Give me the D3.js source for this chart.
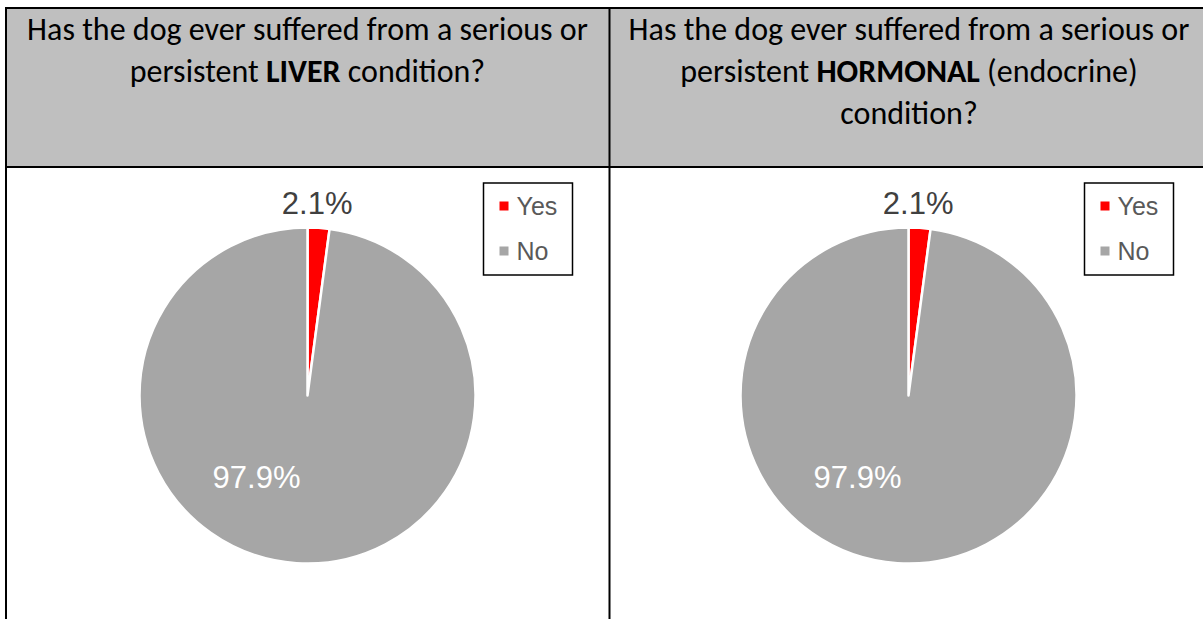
<!DOCTYPE html>
<html>
<head>
<meta charset="utf-8">
<script src="https://cdn.jsdelivr.net/npm/d3@7"></script>
<style>
  html, body { margin: 0; padding: 0; background: #ffffff; }
  svg { display: block; }
</style>
</head>
<body>
<svg id="chart" width="1203" height="619"></svg>
<script>
// Survey answers, one pie per question
const categories = ["Yes", "No"];
const liverValues = [2.1, 97.9];
const hormonalValues = [2.1, 97.9];
const valueLabels = ["2.1%", "97.9%"];

// Header question text: each line is a list of [text, bold] runs
const liverTitle = [
  [["Has the dog ever suffered from a serious or", false]],
  [["persistent ", false], ["LIVER", true], [" condition?", false]]
];
const hormonalTitle = [
  [["Has the dog ever suffered from a serious or", false]],
  [["persistent ", false], ["HORMONAL", true], [" (endocrine)", false]],
  [["condition?", false]]
];

const colors = d3.scaleOrdinal().domain(categories).range(["#ff0000", "#a6a6a6"]);

const svg = d3.select("#chart");
const W = 1203, H = 619;

// table geometry
const tableLeft = 6, tableTop = 8, divider = 609.5, tableRight = 1212, headerBottom = 167;

svg.append("rect")
  .attr("x", tableLeft).attr("y", tableTop)
  .attr("width", tableRight - tableLeft).attr("height", headerBottom - tableTop)
  .attr("fill", "#bfbfbf");

const border = svg.append("g").attr("stroke", "#000").attr("stroke-width", 2);
border.append("line").attr("x1", tableLeft - 1).attr("x2", W).attr("y1", tableTop).attr("y2", tableTop);
border.append("line").attr("x1", tableLeft - 1).attr("x2", W).attr("y1", headerBottom).attr("y2", headerBottom);
border.append("line").attr("x1", tableLeft).attr("x2", tableLeft).attr("y1", tableTop - 1).attr("y2", H);
border.append("line").attr("x1", divider).attr("x2", divider).attr("y1", tableTop - 1).attr("y2", H);

const headerFont = "Carlito, Calibri, Lato, 'Open Sans', sans-serif";

function drawTitle(lines, cx) {
  const g = svg.append("g");
  const baselines = [40, 82, 124];
  const texts = lines.map((runs, i) => {
    const t = g.append("text")
      .attr("x", cx).attr("y", baselines[i])
      .attr("text-anchor", "middle")
      .attr("font-family", headerFont)
      .attr("font-size", 30)
      .attr("fill", "#000");
    runs.forEach(([s, b]) => {
      t.append("tspan").attr("font-weight", b ? "bold" : "normal").text(s);
    });
    return t;
  });
  // scale so the first (longest) line spans the cell like the source layout
  const w = texts[0].node().getComputedTextLength();
  const size = 30 * 561 / w;
  texts.forEach(t => t.attr("font-size", size));
}

drawTitle(liverTitle, 307.5);
drawTitle(hormonalTitle, 909);

const radius = 168;
const pie = d3.pie().sort(null).value(d => d.value);
const arc = d3.arc().innerRadius(0).outerRadius(radius);

function drawPie(values, cx, cy, legendX) {
  const data = categories.map((c, i) => ({ cat: c, value: values[i], label: valueLabels[i] }));
  const g = svg.append("g").attr("transform", `translate(${cx},${cy})`);
  const arcs = pie(data);

  g.selectAll("path")
    .data(arcs)
    .join("path")
    .attr("d", arc)
    .attr("fill", d => colors(d.data.cat))
    .attr("stroke", "#ffffff")
    .attr("stroke-width", 2.5)
    .attr("stroke-linejoin", "round");

  // outside-end label for the small slice
  const small = arcs[0];
  const aSmall = (small.startAngle + small.endAngle) / 2;
  const rOut = radius + 24;
  g.append("text")
    .attr("x", rOut * Math.sin(aSmall) - 3)
    .attr("y", -rOut * Math.cos(aSmall))
    .attr("text-anchor", "middle")
    .attr("dominant-baseline", "central")
    .attr("font-family", "'Liberation Sans', Arial, sans-serif")
    .attr("font-size", 31)
    .attr("fill", "#404040")
    .text(small.data.label);

  // inside label for the large slice, placed toward the lower-left
  const big = arcs[1];
  const aBig = (big.startAngle + big.endAngle) / 2 + 0.49;
  const rIn = radius * 0.575;
  g.append("text")
    .attr("x", rIn * Math.sin(aBig))
    .attr("y", -rIn * Math.cos(aBig))
    .attr("text-anchor", "middle")
    .attr("dominant-baseline", "central")
    .attr("font-family", "'Liberation Sans', Arial, sans-serif")
    .attr("font-size", 31)
    .attr("fill", "#ffffff")
    .text(big.data.label);

  // legend
  const lg = svg.append("g").attr("transform", `translate(${legendX},183)`);
  lg.append("rect")
    .attr("x", 0).attr("y", 0).attr("width", 89).attr("height", 92)
    .attr("fill", "#ffffff").attr("stroke", "#000").attr("stroke-width", 1.5);
  const items = lg.selectAll("g.item")
    .data(categories)
    .join("g")
    .attr("class", "item")
    .attr("transform", (d, i) => `translate(0,${23 + i * 45})`);
  items.append("rect")
    .attr("x", 16).attr("y", -4.5).attr("width", 9).attr("height", 9)
    .attr("fill", d => colors(d));
  items.append("text")
    .attr("x", 33).attr("y", 0)
    .attr("dominant-baseline", "central")
    .attr("font-family", "'Liberation Sans', Arial, sans-serif")
    .attr("font-size", 25)
    .attr("fill", "#595959")
    .text(d => d);
}

drawPie(liverValues, 307.5, 395.5, 483.5);
drawPie(hormonalValues, 908.5, 395.5, 1084.5);
</script>
</body>
</html>
